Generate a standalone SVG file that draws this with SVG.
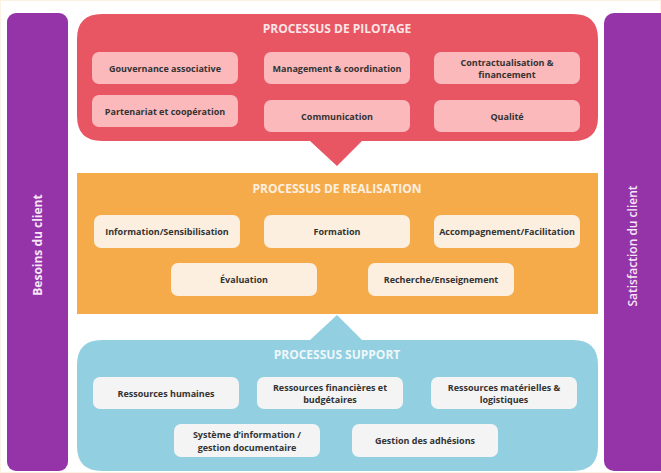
<svg xmlns="http://www.w3.org/2000/svg" width="661" height="473" viewBox="0 0 661 473">
<style>
.box{stroke:none}
.rb{fill:#fbb9bb}
.ob{fill:#fcefdf}
.bb{fill:#f4f4f4}
.t{font-family:"Open Sans","Liberation Sans",sans-serif;font-weight:700;font-size:9px;fill:#333333;text-anchor:middle}
.h{font-family:"Open Sans","Liberation Sans",sans-serif;font-weight:700;font-size:12px;text-anchor:middle}
.v{font-family:"Open Sans","Liberation Sans",sans-serif;font-weight:700;font-size:12px;fill:#f6e6f6;text-anchor:middle}
</style>
<rect x="0" y="0" width="661" height="473" fill="#ffffff"/>
<rect x="0.5" y="0.5" width="660" height="472" fill="none" stroke="#fcf1e3" stroke-width="1"/>
<g id="besoins">
<rect x="7" y="13" width="61" height="458" rx="9" fill="#9533a8"/>
<text class="v" transform="translate(42,245) rotate(-90)">Besoins du client</text>
</g>
<g id="satisfaction">
<rect x="604" y="13" width="70" height="458" rx="10" fill="#9533a8"/>
<text class="v" transform="translate(637,246) rotate(-90)" style="font-weight:600">Satisfaction du client</text>
</g>
<g id="pilotage">
<path d="M102 14 H573 Q598 14 598 39 V117 Q598 141 573 141 H362 L337 166 L310 141 H102 Q77 141 77 116 V39 Q77 14 102 14 Z" fill="#e85664"/>
<text class="h" x="337" y="33" fill="#fde4e6">PROCESSUS DE PILOTAGE</text>
</g>
<g id="gouvernance"><rect class="box rb" x="92" y="52" width="146" height="32" rx="7"/><text class="t" x="165" y="71.5">Gouvernance associative</text></g>
<g id="partenariat"><rect class="box rb" x="92" y="95" width="146" height="32" rx="7"/><text class="t" x="165" y="114.5">Partenariat et coopération</text></g>
<g id="management"><rect class="box rb" x="264" y="52" width="146" height="32" rx="7"/><text class="t" x="337" y="71.5">Management &amp; coordination</text></g>
<g id="communication"><rect class="box rb" x="264" y="100" width="146" height="32" rx="7"/><text class="t" x="337" y="119.5">Communication</text></g>
<g id="contractualisation"><rect class="box rb" x="434" y="52" width="146" height="32" rx="7"/><text class="t" x="507" y="65.5">Contractualisation &amp;</text><text class="t" x="507" y="77.5">financement</text></g>
<g id="qualite"><rect class="box rb" x="434" y="100" width="146" height="32" rx="7"/><text class="t" x="507" y="119.5">Qualité</text></g>

<g id="realisation">
<rect x="77" y="173" width="521" height="141" fill="#f6ab4b"/>
<text class="h" x="337" y="193" fill="#fdf0e0">PROCESSUS DE REALISATION</text>
</g>
<g id="information"><rect class="box ob" x="94" y="215" width="146" height="33" rx="7"/><text class="t" x="167" y="234.5">Information/Sensibilisation</text></g>
<g id="formation"><rect class="box ob" x="264" y="215" width="146" height="33" rx="7"/><text class="t" x="337" y="234.5">Formation</text></g>
<g id="accompagnement"><rect class="box ob" x="434" y="215" width="146" height="33" rx="7"/><text class="t" x="507" y="234.5">Accompagnement/Facilitation</text></g>
<g id="evaluation"><rect class="box ob" x="171" y="263" width="146" height="33" rx="7"/><text class="t" x="244" y="282.5">Évaluation</text></g>
<g id="recherche"><rect class="box ob" x="368" y="263" width="146" height="33" rx="7"/><text class="t" x="441" y="282.5">Recherche/Enseignement</text></g>

<g id="support">
<path d="M102 340 H310 L337 315 L362 340 H573 Q598 340 598 365 V446 Q598 471 573 471 H102 Q77 471 77 446 V365 Q77 340 102 340 Z" fill="#92cfe0"/>
<text class="h" x="337" y="359" fill="#eef8fb">PROCESSUS SUPPORT</text>
</g>
<g id="rh"><rect class="box bb" x="93" y="377" width="146" height="32" rx="7"/><text class="t" x="166" y="396.5">Ressources humaines</text></g>
<g id="rf"><rect class="box bb" x="257" y="377" width="146" height="32" rx="7"/><text class="t" x="330" y="390.5">Ressources financières et</text><text class="t" x="330" y="402.5">budgétaires</text></g>
<g id="rm"><rect class="box bb" x="431" y="377" width="146" height="32" rx="7"/><text class="t" x="504" y="390.5">Ressources matérielles &amp;</text><text class="t" x="504" y="402.5">logistiques</text></g>
<g id="si"><rect class="box bb" x="174" y="424" width="146" height="33" rx="7"/><text class="t" x="247" y="437.5">Système d’information /</text><text class="t" x="247" y="450.5">gestion documentaire</text></g>
<g id="adhesions"><rect class="box bb" x="352" y="424" width="146" height="33" rx="7"/><text class="t" x="425" y="443.5">Gestion des adhésions</text></g>
<g id="connectors"></g>
</svg>
